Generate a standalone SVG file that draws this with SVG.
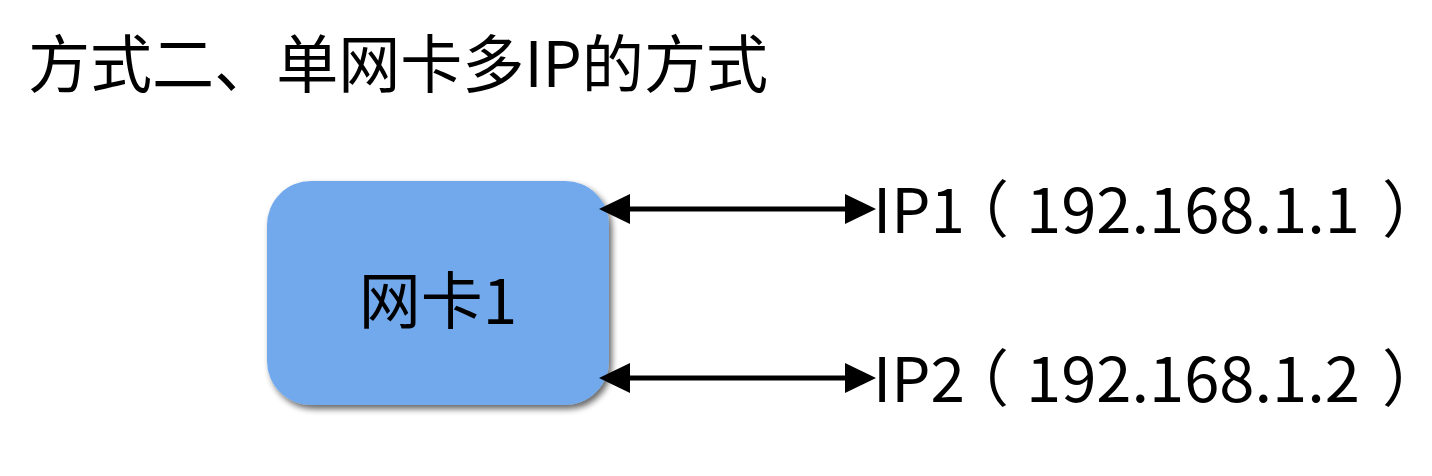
<svg xmlns="http://www.w3.org/2000/svg" width="1432" height="476" viewBox="0 0 1432 476">
<defs>
<style>
.t{font-family:"Microsoft YaHei","Noto Sans CJK SC","Noto Sans",sans-serif;fill:#000}
.p{font-feature-settings:"halt"}
.ln{stroke:#000;stroke-width:5;fill:none}
.hd{fill:#000}
</style>
<filter id="sh" x="-10%" y="-10%" width="125%" height="130%">
<feGaussianBlur in="SourceAlpha" stdDeviation="3"/>
<feOffset dx="3" dy="4" result="b"/>
<feComponentTransfer><feFuncA type="linear" slope="0.6"/></feComponentTransfer>
<feMerge><feMergeNode/><feMergeNode in="SourceGraphic"/></feMerge>
</filter>
</defs>
<rect width="1432" height="476" fill="#fff"/>
<g id="title">
<text class="t" x="28" y="87" font-size="63" textLength="740" lengthAdjust="spacingAndGlyphs">方式二、单网卡多IP的方式</text>
</g>
<g id="nic1">
<rect x="267" y="181" width="342" height="224" rx="44" ry="44" fill="#72A9EC" filter="url(#sh)"/>
<text class="t" x="438" y="324" font-size="62" text-anchor="middle">网卡1</text>
</g>
<g id="ip1">
<text class="t" y="233" font-size="62"><tspan x="873">IP1</tspan><tspan class="p" x="978">（</tspan><tspan x="1026" textLength="334" lengthAdjust="spacingAndGlyphs">192.168.1.1</tspan><tspan class="p" x="1382">）</tspan></text>
</g>
<g id="ip2">
<text class="t" y="402" font-size="62"><tspan x="873">IP2</tspan><tspan class="p" x="978">（</tspan><tspan x="1026" textLength="334" lengthAdjust="spacingAndGlyphs">192.168.1.2</tspan><tspan class="p" x="1382">）</tspan></text>
</g>
<g id="connectors">
<line class="ln" x1="625" y1="209" x2="850" y2="209"/>
<polygon class="hd" points="599,209 630,194 630,224"/>
<polygon class="hd" points="876,209 845,194 845,224"/>
<line class="ln" x1="625" y1="378" x2="850" y2="378"/>
<polygon class="hd" points="599,378 630,363 630,393"/>
<polygon class="hd" points="876,378 845,363 845,393"/>
</g>
</svg>
